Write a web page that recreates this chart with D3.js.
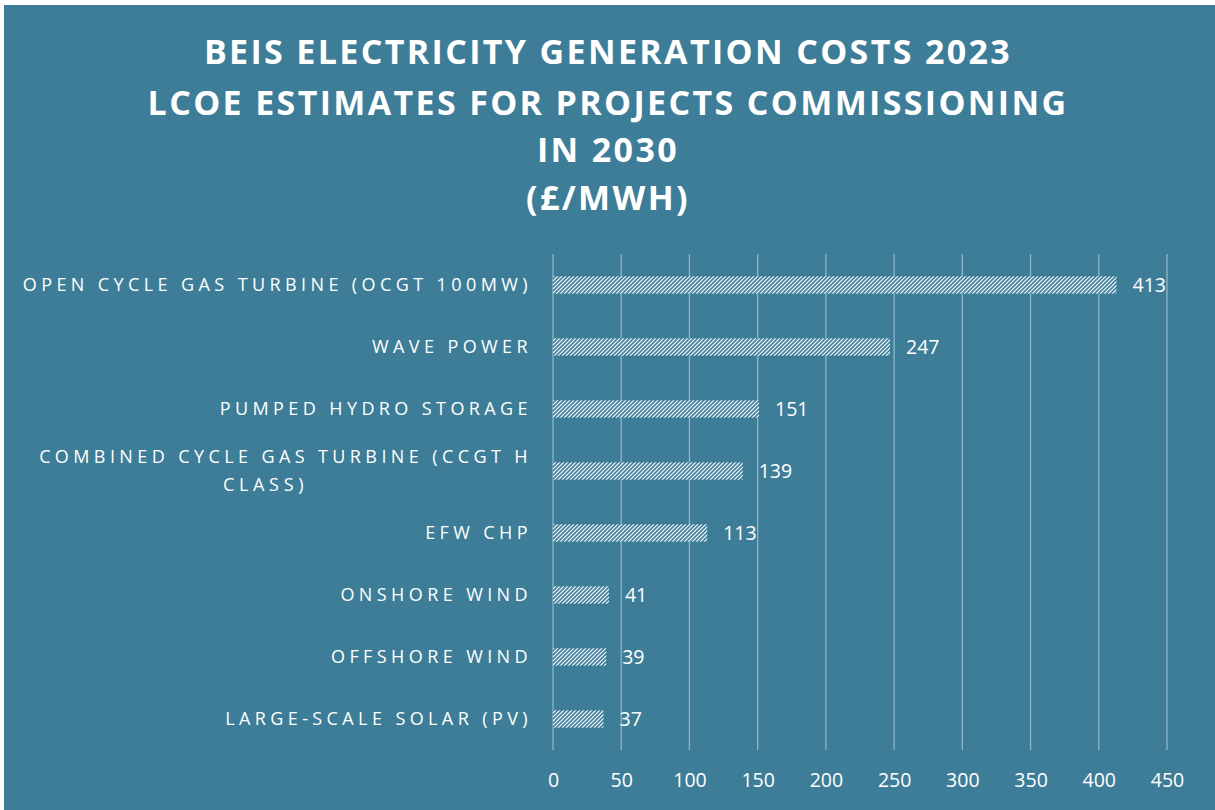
<!DOCTYPE html>
<html><head><meta charset="utf-8">
<script src="https://cdn.jsdelivr.net/npm/d3@7"></script>
<style>html,body{margin:0;padding:0;background:#fff;}svg{display:block;}</style>
</head><body>
<script>
const categories = [
  "OPEN CYCLE GAS TURBINE (OCGT 100MW)",
  "WAVE POWER",
  "PUMPED HYDRO STORAGE",
  "COMBINED CYCLE GAS TURBINE (CCGT H|CLASS)",
  "EFW CHP",
  "ONSHORE WIND",
  "OFFSHORE WIND",
  "LARGE-SCALE SOLAR (PV)"
];
const values = [413, 247, 151, 139, 113, 41, 39, 37];
const tickValues = [0, 50, 100, 150, 200, 250, 300, 350, 400, 450];
const titleLines = ["BEIS ELECTRICITY GENERATION COSTS 2023", "LCOE ESTIMATES FOR PROJECTS COMMISSIONING", "IN 2030", "(£/MWH)"];

const W = 1215, H = 810, BG = "#3d7d97";
const svg = d3.select("body").append("svg").attr("width", W).attr("height", H);
svg.append("rect").attr("x", 4).attr("y", 5).attr("width", W - 4).attr("height", H - 5).attr("fill", BG);

const defs = svg.append("defs");
const pat = defs.append("pattern").attr("id", "hatch").attr("patternUnits", "userSpaceOnUse")
  .attr("width", 4).attr("height", 4);
pat.append("rect").attr("width", 4).attr("height", 4).attr("fill", "#ffffff");
pat.append("path").attr("d", "M-1,1 L1,-1 M0,4 L4,0 M3,5 L5,3").attr("stroke", "#4181a0").attr("stroke-width", 1.7);

const font = "'Open Sans', 'DejaVu Sans', sans-serif";
svg.append("g").selectAll("text").data(titleLines).join("text")
  .attr("x", 608).attr("y", (d, i) => [64, 115, 162, 210][i])
  .attr("text-anchor", "middle").attr("fill", "#fff")
  .attr("font-family", font).attr("font-weight", 700).attr("font-size", 34)
  .attr("letter-spacing", 2.35).text(d => d);

const x = d3.scaleLinear().domain([0, 450]).range([553, 1167]);
const y = d3.scaleBand().domain(categories).range([254, 750]).paddingInner(0.72).paddingOuter(0.36);

svg.append("g").selectAll("line").data(tickValues).join("line")
  .attr("x1", d => x(d)).attr("x2", d => x(d)).attr("y1", 254).attr("y2", 750)
  .attr("stroke", "#8fb6c6").attr("stroke-width", 1.3);

svg.append("g").selectAll("rect").data(values).join("rect")
  .attr("x", x(0)).attr("y", (d, i) => y(categories[i]))
  .attr("width", d => x(d) - x(0)).attr("height", y.bandwidth())
  .attr("fill", "url(#hatch)");

svg.append("g").selectAll("text").data(values).join("text")
  .attr("x", d => x(d) + 16).attr("y", (d, i) => y(categories[i]) + y.bandwidth() / 2)
  .attr("dy", "0.36em").attr("fill", "#fff").attr("font-family", font).attr("font-size", 19.5)
  .text(d => d);

const ax = svg.append("g").attr("transform", "translate(0,780)")
  .call(d3.axisBottom(x).tickValues(tickValues).tickSize(0).tickPadding(0));
ax.select(".domain").remove();
ax.selectAll("text").attr("fill", "#fff").attr("font-family", font).attr("font-size", 19.5).attr("dy", "0.36em");

const LS = 4.4, LF = 18;
const lg = svg.append("g");
categories.forEach((c, i) => {
  const parts = c.split("|");
  const cy = y(c) + y.bandwidth() / 2;
  if (parts.length === 1) {
    lg.append("text").attr("x", 532).attr("y", cy).attr("dy", "0.36em")
      .attr("text-anchor", "end").attr("fill", "#fff").attr("font-family", font)
      .attr("font-size", LF).attr("letter-spacing", LS).text(c);
  } else {
    const t1 = lg.append("text").attr("x", 532).attr("y", cy - 14).attr("dy", "0.36em")
      .attr("text-anchor", "end").attr("fill", "#fff").attr("font-family", font)
      .attr("font-size", LF).attr("letter-spacing", LS).text(parts[0]);
    const bb = t1.node().getBBox();
    lg.append("text").attr("x", bb.x + bb.width / 2 - 20).attr("y", cy + 14).attr("dy", "0.36em")
      .attr("text-anchor", "middle").attr("fill", "#fff").attr("font-family", font)
      .attr("font-size", LF).attr("letter-spacing", LS + 0.3).text(parts[1]);
  }
});
</script>
</body></html>
